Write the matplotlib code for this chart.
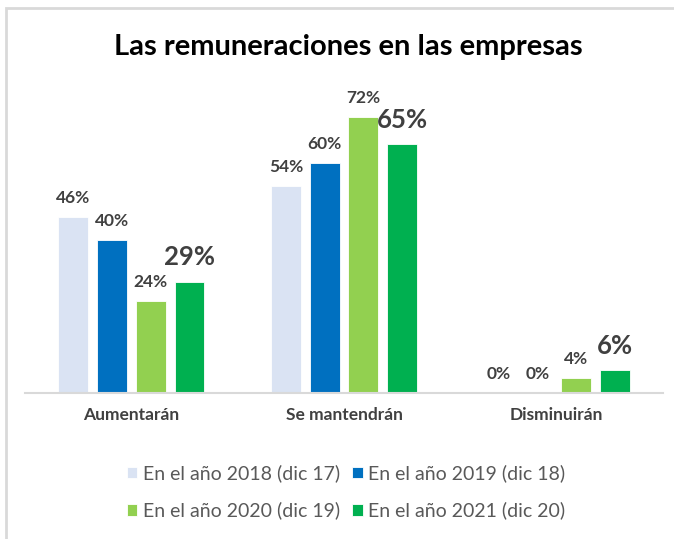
import matplotlib.pyplot as plt
import numpy as np
from matplotlib.patches import Rectangle

plt.rcParams['font.family'] = ['Lato', 'DejaVu Sans']

categorias = ["Aumentarán", "Se mantendrán", "Disminuirán"]
series = ["En el año 2018 (dic 17)", "En el año 2019 (dic 18)",
          "En el año 2020 (dic 19)", "En el año 2021 (dic 20)"]
v2018 = [46, 54, 0]
v2019 = [40, 60, 0]
v2020 = [24, 72, 4]
v2021 = [29, 65, 6]
valores = [v2018, v2019, v2020, v2021]
colores = ["#dae3f3", "#0070c0", "#92d050", "#00b050"]

fig = plt.figure(figsize=(6.74, 5.39), dpi=100)
ax = fig.add_axes([25/674, (539-393)/539, 638/674, 80*3.83/539])

x = np.arange(len(categorias))
ancho = 0.14
paso = 0.182
handles = []
for i, (vals, col, nom) in enumerate(zip(valores, colores, series)):
    pos = x + (i - 1.5) * paso
    barras = ax.bar(pos, vals, ancho, color=col, label=nom, edgecolor="white", linewidth=0.6)
    handles.append(barras)
    grande = (i == 3)
    for p, v in zip(pos, vals):
        ax.annotate(f"{v}%", (p, v), xytext=(0, 9 if grande else 8), textcoords="offset points",
                    ha="center", va="bottom", color="#404040", fontweight="bold",
                    fontsize=18.5 if grande else 12.5)

ax.set_xlim(-0.5, 2.5)
ax.set_ylim(0, 80)
ax.set_xticks(x)
ax.set_xticklabels(categorias, fontsize=12.5, fontweight="bold", color="#404040")
ax.tick_params(axis="x", length=0, pad=10)
ax.set_yticks([])
for s in ["top", "right", "left"]:
    ax.spines[s].set_visible(False)
ax.spines["bottom"].set_color("#d9d9d9")
ax.spines["bottom"].set_linewidth(1.5)

fig.text(348/674, 1 - 47/539, "Las remuneraciones en las empresas", ha="center", va="center",
         fontsize=21, fontweight="bold", color="black")

# orden por filas como en el original
orden = [0, 2, 1, 3]
fig.legend([handles[k] for k in orden], [series[k] for k in orden],
           loc="center", bbox_to_anchor=(346/674, 1 - 492/539), ncol=2, frameon=False,
           fontsize=14, labelcolor="#595959", handlelength=0.55, handleheight=0.55,
           handletextpad=0.3, columnspacing=0.6, labelspacing=1.0)

# marco gris del gráfico
fig.patches.append(Rectangle((6/674, -0.01), 1.0, 1 - 8/539 + 0.01, transform=fig.transFigure,
                             fill=False, edgecolor="#d9d9d9", linewidth=2))

fig.savefig("out.png", dpi=100)
